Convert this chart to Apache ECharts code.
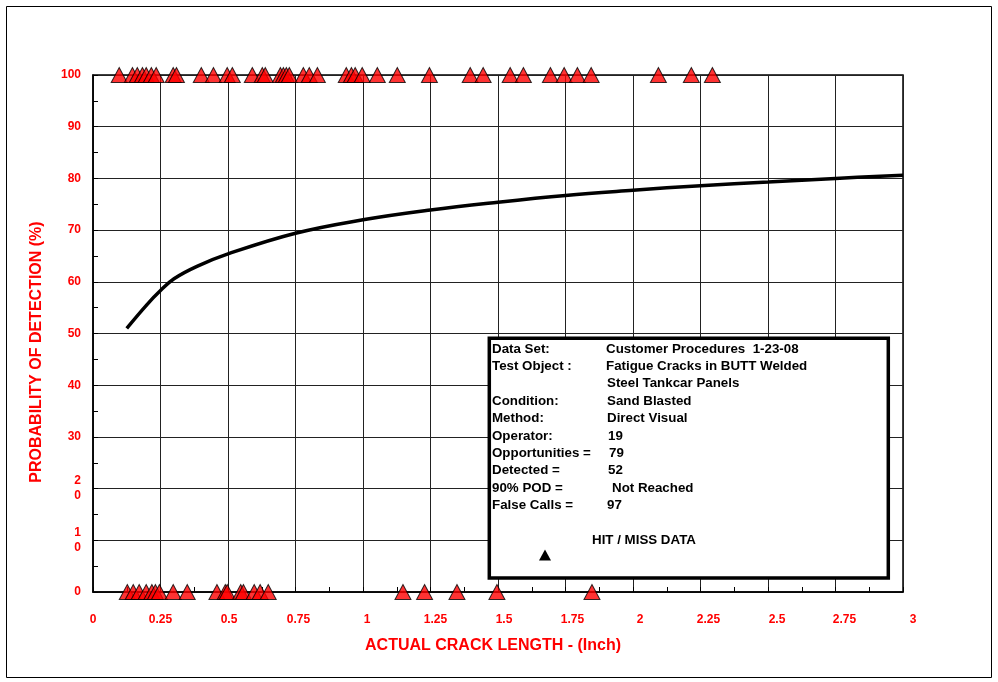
<!DOCTYPE html>
<html><head><meta charset="utf-8">
<script src="https://cdn.jsdelivr.net/npm/echarts@6/dist/echarts.min.js"></script>
<style>html,body{margin:0;padding:0;background:#fff}#c{width:998px;height:682px}</style>
</head><body><div id="c"></div>
<script>
// ---- data ----
const xTickLabels = ['0','0.25','0.5','0.75','1','1.25','1.5','1.75','2','2.25','2.5','2.75','3'];
const yTickLabels = ['0','1\n0','2\n0','30','40','50','60','70','80','90','100'];
const hitLengths = [0.097,0.146,0.164,0.183,0.197,0.216,0.234,0.297,0.309,0.401,0.446,0.497,0.516,0.590,0.627,0.638,
  0.694,0.705,0.716,0.727,0.779,0.801,0.831,0.938,0.957,0.971,0.997,1.053,1.127,1.246,1.397,1.445,1.545,1.594,
  1.694,1.745,1.794,1.845,2.094,2.216,2.294];
const missLengths = [0.127,0.149,0.171,0.197,0.218,0.231,0.246,0.297,0.349,0.459,0.490,0.497,0.547,0.557,0.597,
  0.619,0.649,1.148,1.228,1.348,1.496,1.848];
const podLength = [0.125,0.2,0.25,0.3,0.385,0.5,0.75,1,1.25,1.5,1.75,2,2.25,2.5,2.75,3];
const podValue  = [51.0,55.6,58.3,60.6,63.0,65.4,69.4,72.0,73.9,75.4,76.7,77.7,78.6,79.3,80.0,80.6];
const infoLabels = ['Data Set:','Test Object :','','Condition:','Method:','Operator:','Opportunities =','Detected =','90% POD =','False Calls ='];
const infoValues = ['Customer Procedures  1-23-08','Fatigue Cracks in BUTT Welded','Steel Tankcar Panels','Sand Blasted','Direct Visual','19','79','52','Not Reached','97'];
const legendText = 'HIT / MISS DATA';
const xTitle = 'ACTUAL CRACK LENGTH - (Inch)';
const yTitle = 'PROBABILITY OF DETECTION (%)';

// ---- layout ----
const FONT = '"Liberation Sans", Arial, sans-serif';
const RED = '#ff0000';
const infoValueX = [606,606,607,607,607,608,609,608,612,607];
const infoRowY0 = 349, infoRowStep = 17.4;
// x tick labels in the reference drift slightly right of their ticks
const xLabelShift = [0,0,1,3,4,5,6,7,7,8,9,9,10];

const chart = echarts.init(document.getElementById('c'), null, {renderer:'canvas'});

const graphics = [
  {type:'rect', shape:{x:6.5,y:6.5,width:985,height:671}, style:{fill:'none',stroke:'#000',lineWidth:1}, z:0, silent:true},
  {type:'rect', shape:{x:489.3,y:338.2,width:399,height:239.8}, style:{fill:'#fff',stroke:'#000',lineWidth:3.5}, z:50},
  {type:'text', x:37, y:352, rotation:Math.PI/2, z:10,
    style:{text:yTitle, font:'bold 16px '+FONT, fill:RED, align:'center', verticalAlign:'middle'}},
  {type:'text', x:493, y:646, z:10,
    style:{text:xTitle, font:'bold 16px '+FONT, fill:RED, align:'center', verticalAlign:'middle'}}
];
const infoFont = 'bold 13.33px ' + FONT;
infoLabels.forEach((t,i)=>{
  if (t) graphics.push({type:'text', x:492, y:infoRowY0+i*infoRowStep, z:51,
    style:{text:t, font:infoFont, fill:'#000', verticalAlign:'middle', align:'left'}});
});
infoValues.forEach((t,i)=>{
  graphics.push({type:'text', x:infoValueX[i], y:infoRowY0+i*infoRowStep, z:51,
    style:{text:t, font:infoFont, fill:'#000', verticalAlign:'middle', align:'left'}});
});
graphics.push({type:'text', x:592, y:540.5, z:51,
  style:{text:legendText, font:infoFont, fill:'#000', verticalAlign:'middle', align:'left'}});
graphics.push({type:'polygon', z:51, shape:{points:[[545,549.5],[551,560.5],[539,560.5]]}, style:{fill:'#000'}});

const triStyle = {color:RED, borderColor:'#000', borderWidth:1};
const xRich = {};
xTickLabels.forEach((t,i)=>{
  xRich['l'+i] = {color:RED, fontWeight:'bold', fontSize:12, fontFamily:FONT, padding:[0,0,0,2*xLabelShift[i]]};
});

chart.setOption({
  animation:false,
  backgroundColor:'#fff',
  grid:{left:93, right:95, top:75, bottom:90, show:true, borderColor:'#000', borderWidth:1.5, backgroundColor:'transparent'},
  xAxis:{
    type:'value', min:0, max:3, interval:0.25,
    axisLine:{show:true, lineStyle:{color:'#000', width:1.5}},
    axisTick:{show:true, inside:true, length:5, lineStyle:{color:'#000'}},
    minorTick:{show:true, splitNumber:2, length:5, lineStyle:{color:'#000'}},
    splitLine:{show:true, lineStyle:{color:'#222', width:1}},
    axisLabel:{color:RED, fontWeight:'bold', fontSize:12, fontFamily:FONT, margin:22, rich:xRich,
      formatter:(v)=>{const i=Math.round(v/0.25); return '{l'+i+'|'+xTickLabels[i]+'}';}}
  },
  yAxis:{
    type:'value', min:0, max:100, interval:10,
    axisLine:{show:true, lineStyle:{color:'#000', width:1.5}},
    axisTick:{show:true, inside:true, length:5, lineStyle:{color:'#000'}},
    minorTick:{show:true, splitNumber:2, length:5, lineStyle:{color:'#000'}},
    splitLine:{show:true, lineStyle:{color:'#222', width:1}},
    axisLabel:{color:RED, fontWeight:'bold', fontSize:12, fontFamily:FONT, margin:12, lineHeight:15,
      formatter:(v)=>yTickLabels[Math.round(v/10)]}
  },
  series:[
    {type:'line', data:podLength.map((x,i)=>[x,podValue[i]]), smooth:0.4, symbol:'none',
      lineStyle:{color:'#000', width:3.5}, z:3},
    {type:'scatter', data:hitLengths.map(x=>[x,100]), symbol:'triangle', symbolSize:[16,15], clip:false,
      itemStyle:triStyle, z:5},
    {type:'scatter', data:missLengths.map(x=>[x,0]), symbol:'triangle', symbolSize:[16,15], clip:false,
      itemStyle:triStyle, z:5}
  ],
  graphic:graphics
});
</script>
</body></html>
